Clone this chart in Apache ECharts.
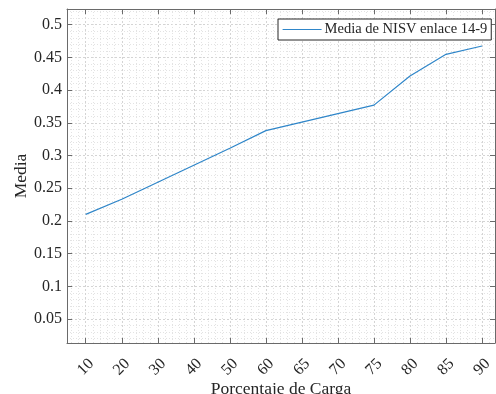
<!DOCTYPE html>
<html>
<head>
<meta charset="utf-8">
<script src="https://cdn.jsdelivr.net/npm/echarts@6/dist/echarts.min.js"></script>
<style>html,body{margin:0;padding:0;background:#fff}#c{width:496px;height:394px}</style>
</head>
<body>
<div id="c"></div>
<script>
var categories = ['10','20','30','40','50','60','65','70','75','80','85','90'];
var mediaValues = [0.210, 0.233, 0.259, 0.285, 0.311, 0.338, 0.351, 0.364, 0.377, 0.4216, 0.4547, 0.4674];
var seriesName = 'Media de NISV enlace 14-9';
var xTitle = 'Porcentaje de Carga';
var yTitle = 'Media';

var FONT = '"Liberation Serif", "Times New Roman", serif';
var TXT = '#262626';
var AX = '#6a6a6a';

var xMin = 0.48, xMax = 12.36;
var yMin = 0.0133, yMax = 0.524;

var data = mediaValues.map(function (v, i) { return [i + 1, v]; });

function xLabel(v) {
  var k = Math.round(v);
  if (Math.abs(v - k) < 1e-6 && k >= 1 && k <= categories.length) return categories[k - 1];
  return '';
}
function yLabel(v) {
  var r = Math.round(v * 100) / 100;
  if (Math.abs(v - r) > 1e-6) return '';
  return String(r);
}

var splitMajor = { show: true, lineStyle: { color: '#d4d4d4', type: [2, 2], width: 1 } };
var splitMinor = { show: true, lineStyle: { color: '#e3e3e3', type: [1, 2], width: 1 } };

var chart = echarts.init(document.getElementById('c'), null, { renderer: 'canvas' });
chart.setOption({
  animation: false,
  backgroundColor: '#ffffff',
  grid: { left: 67, top: 9, right: 1, bottom: 51, containLabel: false, outerBoundsMode: 'none' },
  legend: {
    show: true,
    left: 278, top: 19,
    padding: [3, 4, 3, 4],
    itemWidth: 39, itemHeight: 14, itemGap: 0,
    backgroundColor: '#ffffff',
    borderColor: '#262626', borderWidth: 1, borderRadius: 0,
    itemStyle: { opacity: 0 },
    lineStyle: { width: 1.2, color: '#2f86c9' },
    textStyle: { fontFamily: FONT, fontSize: 14.5, color: TXT, padding: [0, 0, 0, -2] },
    data: [{ name: seriesName }]
  },
  xAxis: [{
    type: 'value', min: xMin, max: xMax, splitNumber: 12,
    position: 'bottom',
    name: xTitle, nameLocation: 'middle', nameGap: 37, nameMoveOverlap: false,
    nameTextStyle: { fontFamily: FONT, fontSize: 17.5, color: TXT },
    axisLine: { show: true, onZero: false, lineStyle: { color: AX, width: 1 } },
    axisTick: { show: true, inside: true, length: 5, lineStyle: { color: AX } },
    minorTick: { show: false, splitNumber: 5 },
    axisLabel: { show: true, rotate: 45, margin: 24, align: 'center', verticalAlign: 'middle',
                 formatter: xLabel, showMinLabel: false, showMaxLabel: false,
                 fontFamily: FONT, fontSize: 16, color: TXT },
    splitLine: splitMajor,
    minorSplitLine: splitMinor
  }, {
    type: 'value', min: xMin, max: xMax, splitNumber: 12,
    position: 'top',
    axisLine: { show: true, onZero: false, lineStyle: { color: AX, width: 1 } },
    axisTick: { show: true, inside: true, length: 5, lineStyle: { color: AX } },
    axisLabel: { show: false },
    splitLine: { show: false }
  }],
  yAxis: [{
    type: 'value', min: yMin, max: yMax, splitNumber: 10,
    position: 'left',
    name: yTitle, nameLocation: 'middle', nameGap: 37, nameMoveOverlap: false,
    nameTextStyle: { fontFamily: FONT, fontSize: 17.5, color: TXT },
    axisLine: { show: true, onZero: false, lineStyle: { color: AX, width: 1 } },
    axisTick: { show: true, inside: true, length: 5, lineStyle: { color: AX } },
    minorTick: { show: false, splitNumber: 5 },
    axisLabel: { show: true, margin: 5, formatter: yLabel, showMinLabel: false, showMaxLabel: false,
                 fontFamily: FONT, fontSize: 16, color: TXT },
    splitLine: splitMajor,
    minorSplitLine: splitMinor
  }, {
    type: 'value', min: yMin, max: yMax, splitNumber: 10,
    position: 'right',
    axisLine: { show: true, onZero: false, lineStyle: { color: AX, width: 1 } },
    axisTick: { show: true, inside: true, length: 5, lineStyle: { color: AX } },
    axisLabel: { show: false },
    splitLine: { show: false }
  }],
  series: [{
    name: seriesName,
    type: 'line',
    xAxisIndex: 0, yAxisIndex: 0,
    data: data,
    symbol: 'none', showSymbol: false,
    lineStyle: { color: '#2f86c9', width: 1.2 },
    itemStyle: { color: '#2f86c9' },
    smooth: false
  }]
});
</script>
</body>
</html>
